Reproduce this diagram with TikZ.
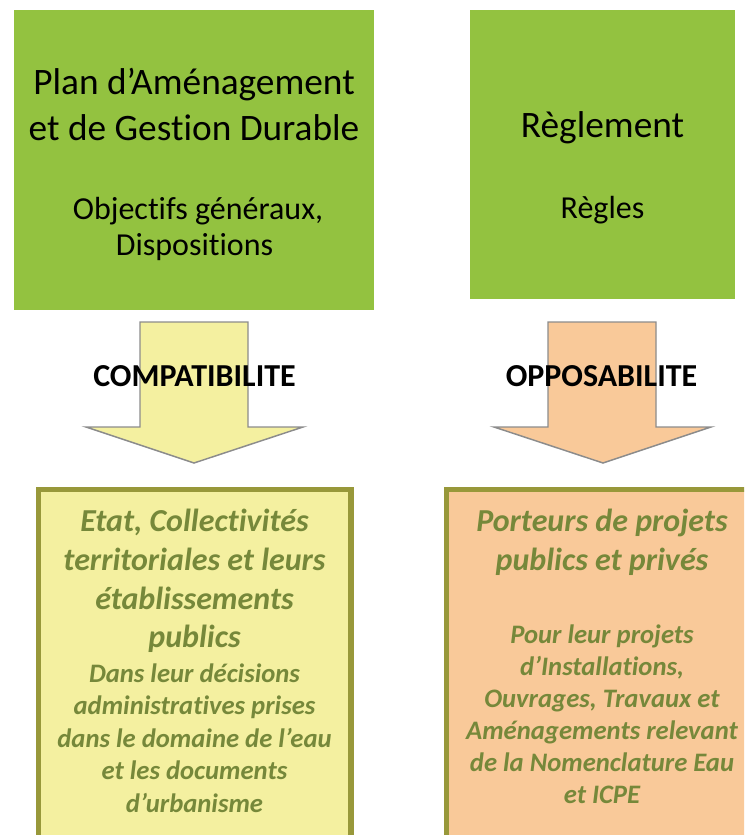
\documentclass[tikz,border=0pt]{standalone}
\usepackage{fontspec}
\setmainfont{Carlito}[Ligatures={NoCommon,NoContextual,NoRare},Contextuals={NoAlternate}]
\newcommand{\nolig}{\kern0pt{}}
\definecolor{boxgreen}{RGB}{147,194,64}
\definecolor{lightyel}{RGB}{244,240,160}
\definecolor{peach}{RGB}{249,201,153}
\definecolor{olivebd}{RGB}{152,152,58}
\definecolor{olivetx}{RGB}{118,136,58}
\definecolor{arrowgray}{RGB}{140,140,140}
\tikzset{
  every node/.style={inner sep=0pt, anchor=base},
  greenbox/.style={fill=boxgreen},
  bigarrow/.style={draw=arrowgray, line width=1.1pt, line join=miter},
  lowbox/.style={draw=olivebd, line width=3.8pt},
  toptitle/.style={font=\fontsize{28}{34}\selectfont},
  topsub/.style={font=\fontsize{24}{29}\selectfont},
  arrlabel/.style={font=\fontsize{24}{29}\selectfont\bfseries},
  lowtitle/.style={font=\fontsize{24}{29}\selectfont\bfseries\itshape, text=olivetx},
  lowsub/.style={font=\fontsize{20}{24}\selectfont\bfseries\itshape, text=olivetx}
}
\begin{document}
\begin{tikzpicture}[x=0.75pt,y=-0.75pt]
\useasboundingbox (0,0) rectangle (744,835);
\clip (0,0) rectangle (744,835);
% top boxes
\fill[greenbox] (14,10) rectangle (374,310);
\fill[greenbox] (470,10) rectangle (735,299);
\node[toptitle] (p1) at (194,94) {Plan d’Aménagement};
\node[toptitle] (p2) at (194,140) {et de Gestion Durable};
\node[topsub] (p3) at (198,219) {Object\nolig ifs généraux,};
\node[topsub] (p4) at (194.5,255) {Disposit\nolig ions};
\node[toptitle] (r1) at (602.5,137) {Règlement};
\node[topsub] (r2) at (602.5,218) {Règles};
% arrows
\draw[bigarrow, fill=lightyel] (140,322) -- (248,322) -- (248,427) -- (303,427) -- (194,463) -- (86,427) -- (140,427) -- cycle;
\draw[bigarrow, fill=peach] (548,322) -- (656,322) -- (656,427) -- (711,427) -- (603,463) -- (494,427) -- (548,427) -- cycle;
\node[arrlabel] (c) at (194.5,386) {COMPATIBILITE};
\node[arrlabel] (o) at (601.5,386) {OPPOSABILITE};
% bottom boxes
\draw[lowbox, fill=lightyel] (38.5,489.5) rectangle (351,850);
\draw[lowbox, fill=peach] (446.5,489.5) rectangle (759,850);
\node[lowtitle] (e1) at (194.5,531) {Etat, Collect\nolig ivités};
\node[lowtitle] (e2) at (194.5,570) {territoriales et leurs};
\node[lowtitle] (e3) at (194.5,609) {établissements};
\node[lowtitle] (e4) at (194.5,647) {publics};
\node[lowsub] (e5) at (194.5,682) {Dans leur décisions};
\node[lowsub] (e6) at (194.5,714.5) {administrat\nolig ives prises};
\node[lowsub] (e7) at (194.5,747) {dans le domaine de l’eau};
\node[lowsub] (e8) at (194.5,779.5) {et les documents};
\node[lowsub] (e9) at (194.5,812) {d’urbanisme};
\node[lowtitle] (q1) at (602,531) {Porteurs de projets};
\node[lowtitle] (q2) at (602,570) {publics et privés};
\node[lowsub] (q3) at (602,643) {Pour leur projets};
\node[lowsub] (q4) at (602,675) {d’Installat\nolig ions,};
\node[lowsub] (q5) at (602,707) {Ouvrages, Travaux et};
\node[lowsub] (q6) at (602,739) {Aménagements relevant};
\node[lowsub] (q7) at (602,771) {de la Nomenclature Eau};
\node[lowsub] (q8) at (602,803) {et ICPE};
\end{tikzpicture}
\end{document}
